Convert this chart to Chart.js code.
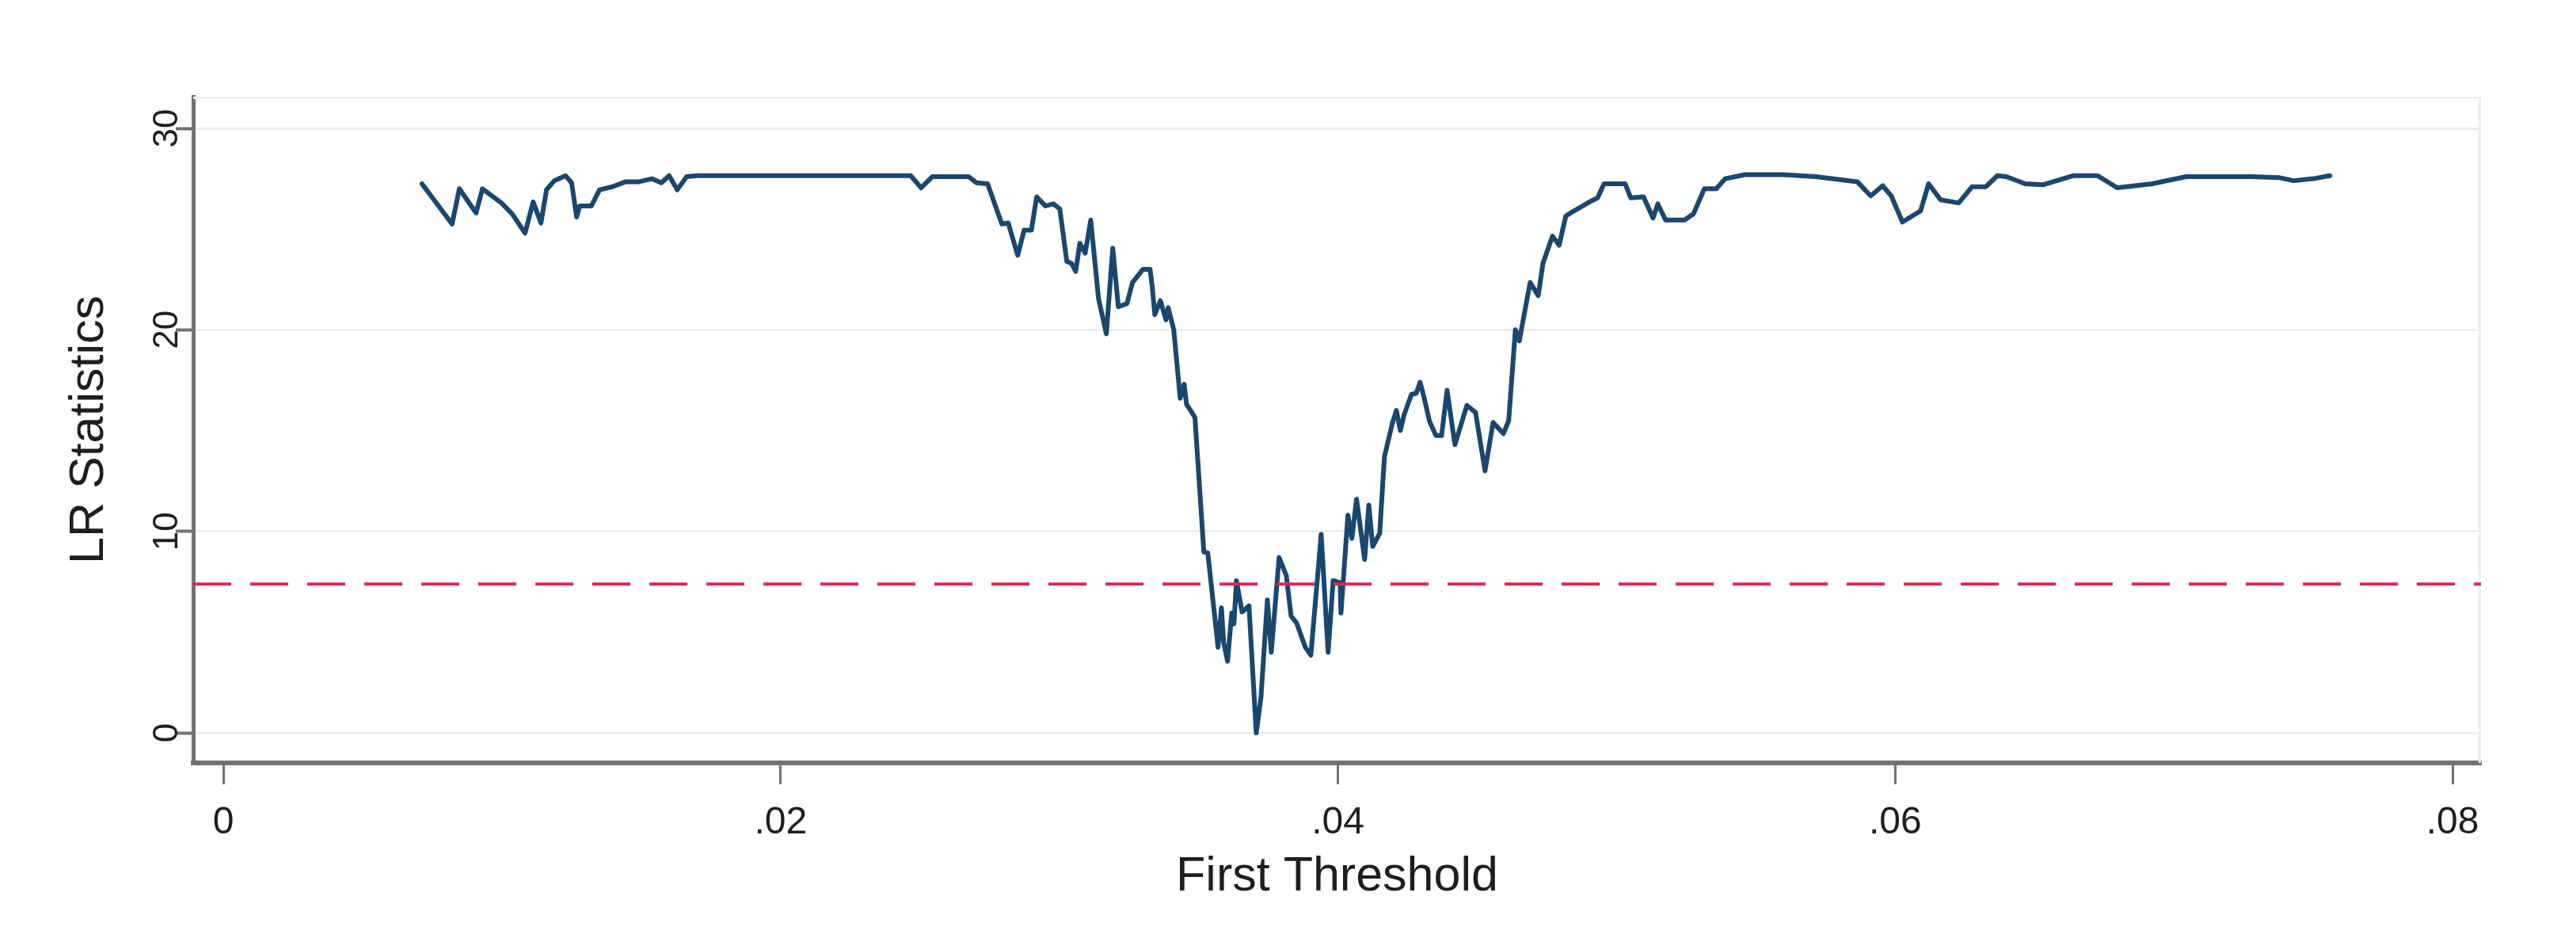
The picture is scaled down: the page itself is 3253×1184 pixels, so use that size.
<!DOCTYPE html>
<html>
<head>
<meta charset="utf-8">
<script src="https://cdn.jsdelivr.net/npm/chart.js@4.4.1/dist/chart.umd.min.js"></script>
<style>
  html, body { margin: 0; padding: 0; background: #ffffff; }
  #wrap { width: 3253px; height: 1184px; position: relative; }
</style>
</head>
<body>
<div id="wrap"><canvas id="c" width="3253" height="1184"></canvas></div>
<script>
// ---- data ----
const thresholds = [
  0.00713, 0.00821, 0.00847, 0.00907, 0.0093, 0.00998, 0.01037, 0.01083, 0.01112, 0.0114,
  0.0116, 0.01188, 0.01228, 0.0125, 0.01268, 0.01279, 0.01321, 0.0135, 0.01396, 0.01444,
  0.01492, 0.01538, 0.01572, 0.016, 0.01629, 0.01663, 0.0170, 0.0200, 0.0230, 0.02467,
  0.02504, 0.02544, 0.02675, 0.02703, 0.02743, 0.02794, 0.02817, 0.02851, 0.02874, 0.029,
  0.02919, 0.0295, 0.02979, 0.03002, 0.03027, 0.03044, 0.03059, 0.03074, 0.03093, 0.03113,
  0.03141, 0.03169, 0.03192, 0.03212, 0.03243, 0.03263, 0.033, 0.03326, 0.03334, 0.03343,
  0.03363, 0.03383, 0.03391, 0.03411, 0.03434, 0.03448, 0.03457, 0.03476, 0.03487, 0.03519,
  0.03533, 0.0357, 0.03582, 0.0359, 0.03604, 0.03619, 0.03627, 0.03636, 0.03656, 0.03681,
  0.03707, 0.03724, 0.03747, 0.03761, 0.03789, 0.03815, 0.03832, 0.03852, 0.03883, 0.03903,
  0.0394, 0.03965, 0.03983, 0.04008, 0.04011, 0.04036, 0.0405, 0.04067, 0.04096, 0.04111,
  0.04125, 0.0415, 0.04167, 0.04196, 0.0421, 0.04224, 0.04238, 0.04264, 0.04281, 0.04295,
  0.0431, 0.04329, 0.04352, 0.04372, 0.04392, 0.0442, 0.04463, 0.04494, 0.04528, 0.04557,
  0.04594, 0.04613, 0.04637, 0.04651, 0.0469, 0.04719, 0.04736, 0.0477, 0.04794, 0.04818,
  0.04847, 0.04903, 0.04932, 0.04955, 0.05031, 0.05051, 0.05097, 0.05131, 0.05148, 0.05176,
  0.05244, 0.05276, 0.05315, 0.05358, 0.0539, 0.0546, 0.0560, 0.05716, 0.05864, 0.05912,
  0.05955, 0.05986, 0.06026, 0.06091, 0.0612, 0.06163, 0.06228, 0.06276, 0.06325, 0.06367,
  0.06399, 0.06467, 0.06532, 0.06638, 0.06726, 0.06797, 0.06922, 0.07044, 0.0728, 0.0738,
  0.0743, 0.0750, 0.0756
];
const lrStats = [
  27.25, 25.25, 27.0, 25.8, 27.0, 26.3, 25.75, 24.8, 26.35, 25.3,
  26.95, 27.4, 27.65, 27.3, 25.6, 26.15, 26.15, 26.95, 27.1, 27.35,
  27.35, 27.5, 27.3, 27.65, 26.95, 27.6, 27.65, 27.65, 27.65, 27.65,
  27.05, 27.6, 27.6, 27.3, 27.25, 25.25, 25.3, 23.7, 24.95, 24.95,
  26.6, 26.15, 26.25, 26.0, 23.4, 23.3, 22.9, 24.3, 23.8, 25.45,
  21.55, 19.8, 24.05, 21.15, 21.3, 22.35, 23.0, 23.0, 22.1, 20.75,
  21.45, 20.5, 21.1, 20.0, 16.6, 17.3, 16.3, 15.9, 15.65, 8.97,
  8.93, 4.25, 6.2, 4.5, 3.55, 5.95, 5.4, 7.55, 6.0, 6.3,
  0.0, 1.77, 6.6, 4.0, 8.7, 7.8, 5.8, 5.45, 4.25, 3.85,
  9.85, 4.0, 7.55, 7.45, 5.95, 10.8, 9.65, 11.6, 8.6, 11.3,
  9.25, 9.9, 13.7, 15.4, 16.0, 15.0, 15.8, 16.8, 16.85, 17.4,
  16.6, 15.45, 14.75, 14.75, 17.0, 14.3, 16.25, 15.9, 13.0, 15.4,
  14.85, 15.5, 20.0, 19.45, 22.35, 21.7, 23.3, 24.65, 24.2, 25.65,
  25.9, 26.35, 26.55, 27.25, 27.25, 26.55, 26.6, 25.55, 26.25, 25.45,
  25.45, 25.75, 27.0, 27.0, 27.5, 27.7, 27.7, 27.6, 27.35, 26.65,
  27.15, 26.65, 25.35, 25.9, 27.25, 26.45, 26.3, 27.1, 27.1, 27.65,
  27.6, 27.25, 27.2, 27.65, 27.65, 27.05, 27.25, 27.6, 27.6, 27.55,
  27.4, 27.5, 27.65
];
const criticalValue = 7.38;
const xTicks = [0, 0.02, 0.04, 0.06, 0.08];
const xTickLabels = ['0', '.02', '.04', '.06', '.08'];
const yTicks = [0, 10, 20, 30];
const yTickLabels = ['0', '10', '20', '30'];
const xTitle = 'First Threshold';
const yTitle = 'LR Statistics';

// ---- styling ----
function hasFont(name) {
  const c = document.createElement('canvas').getContext('2d');
  const s = 'First Threshold .0123456789';
  c.font = '40px monospace';
  const a = c.measureText(s).width;
  c.font = '40px "' + name + '", monospace';
  const b = c.measureText(s).width;
  return Math.abs(a - b) > 0.5;
}
const FONT = '"Liberation Sans", Arial, Helvetica, sans-serif';
const NARROW_OK = hasFont('Liberation Sans Narrow');
const TICK_FONT = NARROW_OK ? '"Liberation Sans Narrow", "Liberation Sans", sans-serif' : FONT;
const X_TICK_SIZE = NARROW_OK ? 56 : 48;
const Y_TICK_SIZE = NARROW_OK ? 48 : 44;
const TEXT = '#1e1e1e';
const LINE = '#1a476f';
const DASH = '#d42a57';
const GRID = '#e8eef1';
const AXIS = '#737373';

const X_MIN = -0.00108, X_MAX = 0.081023;
const Y_MIN = -1.494, Y_MAX = 31.573;

const curve = thresholds.map((t, i) => ({ x: t, y: lrStats[i] }));
const critLine = [{ x: X_MIN, y: criticalValue }, { x: X_MAX, y: criticalValue }];

const stataPlugin = {
  id: 'stataDecor',
  beforeDatasetsDraw(chart) {
    const { ctx, chartArea: a } = chart;
    ctx.save();
    ctx.strokeStyle = '#ececec';
    ctx.lineWidth = 3;
    ctx.beginPath();
    ctx.moveTo(a.left, a.top + 1.5);
    ctx.lineTo(a.right - 1.5, a.top + 1.5);
    ctx.lineTo(a.right - 1.5, a.bottom);
    ctx.stroke();
    ctx.restore();
  },
  afterDraw(chart) {
    const { ctx } = chart;
    const ys = chart.scales.y;
    ctx.save();
    ctx.font = Y_TICK_SIZE + 'px ' + TICK_FONT;
    ctx.fillStyle = TEXT;
    ctx.textAlign = 'center';
    ctx.textBaseline = 'alphabetic';
    const bx = 208 + 0.358 * Y_TICK_SIZE;
    yTicks.forEach((v, i) => {
      const py = ys.getPixelForValue(v);
      ctx.save();
      ctx.translate(bx, py);
      ctx.rotate(-Math.PI / 2);
      ctx.fillText(yTickLabels[i], 0, 0);
      ctx.restore();
    });
    ctx.restore();
  }
};

new Chart(document.getElementById('c'), {
  type: 'line',
  data: {
    datasets: [
      {
        data: critLine,
        borderColor: DASH,
        borderWidth: 4,
        borderDash: [48, 24],
        pointRadius: 0,
        fill: false,
        tension: 0
      },
      {
        data: curve,
        borderColor: LINE,
        borderWidth: 6,
        borderJoinStyle: 'round',
        borderCapStyle: 'round',
        pointRadius: 0,
        fill: false,
        tension: 0
      }
    ]
  },
  options: {
    responsive: false,
    animation: false,
    devicePixelRatio: 1,
    layout: { padding: { left: 0, top: 122, right: 120, bottom: 0 } },
    plugins: { legend: { display: false }, tooltip: { enabled: false } },
    scales: {
      x: {
        type: 'linear',
        min: X_MIN,
        max: X_MAX,
        afterBuildTicks: s => { s.ticks = xTicks.map(v => ({ value: v })); },
        afterFit: s => { s.height = 221; },
        grid: {
          drawOnChartArea: false,
          drawTicks: true,
          tickLength: 27,
          tickColor: AXIS,
          tickWidth: 3,
          color: AXIS
        },
        border: { display: true, color: AXIS, width: 6 },
        ticks: {
          padding: NARROW_OK ? 17 : 20,
          color: TEXT,
          font: { family: TICK_FONT, size: X_TICK_SIZE },
          maxRotation: 0,
          minRotation: 0,
          callback: (v, i) => xTickLabels[i]
        },
        title: {
          display: true,
          text: xTitle,
          color: TEXT,
          font: { family: FONT, size: 61 },
          padding: { top: 0, bottom: 40 }
        }
      },
      y: {
        type: 'linear',
        min: Y_MIN,
        max: Y_MAX,
        afterBuildTicks: s => { s.ticks = yTicks.map(v => ({ value: v })); },
        afterFit: s => { s.width = 244; },
        grid: {
          drawOnChartArea: true,
          color: GRID,
          lineWidth: 3,
          drawTicks: true,
          tickLength: 22,
          tickColor: AXIS,
          tickWidth: 4
        },
        border: { display: true, color: AXIS, width: 5 },
        ticks: { display: false },
        title: {
          display: true,
          text: yTitle,
          color: TEXT,
          font: { family: FONT, size: 61 },
          padding: { top: 77, bottom: 0 }
        }
      }
    }
  },
  plugins: [stataPlugin]
});
</script>
</body>
</html>
